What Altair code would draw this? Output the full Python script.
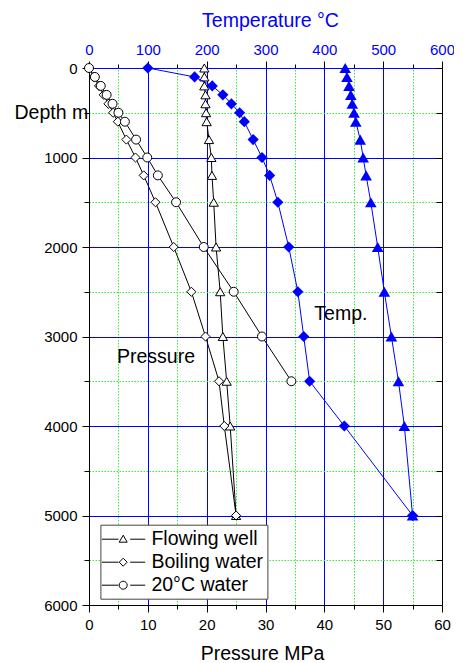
import altair as alt
import pandas as pd

# ---------------- data ----------------
depth = [0, 100, 200, 300, 400, 500, 600, 800, 1000, 1200, 1500, 2000, 2500, 3000, 3500, 4000, 5000]
p_flowing = [19.6, 19.6, 19.6, 19.8, 19.8, 19.9, 20.0, 20.4, 20.8, 20.9, 21.2, 21.6, 22.3, 22.75, 23.4, 24.0, 25.0]
p_boiling = [0, 0.8, 1.7, 2.5, 3.3, 4.1, 4.9, 6.35, 7.9, 9.3, 11.3, 14.4, 17.4, 19.8, 22.1, 23.0, 25.0]
depth_cold = [0, 100, 200, 300, 400, 500, 600, 800, 1000, 1200, 1500, 2000, 2500, 3000, 3500]
p_cold = [0, 1.0, 2.0, 3.0, 4.0, 5.0, 6.1, 8.0, 9.9, 11.7, 14.8, 19.5, 24.6, 29.4, 34.4]
t_boiling = [100, 179.5, 209.5, 227.5, 242, 256, 264, 279, 294, 307, 321, 339.5, 355, 365, 375, 434, 550]
t_flowing = [435.5, 438.5, 442, 445, 447.5, 450.5, 453.5, 461, 466, 471, 479, 490.7, 502, 514, 526, 536, 550]

series_names = ["Flowing well", "Boiling water", "20°C water"]
temp_names = ["T boiling", "T flowing"]

annot_text = ["Pressure", "Temp."]
annot_p = [4.75, 38.3]
annot_depth = [3296, 2815]

p_ticks = list(range(0, 61, 5))
t_ticks = list(range(0, 601, 50))
d_ticks = list(range(0, 6001, 500))

# ---------------- tables ----------------
rows = []
for name, ds, ps in [(series_names[0], depth, p_flowing),
                     (series_names[1], depth, p_boiling),
                     (series_names[2], depth_cold, p_cold)]:
    for d, p in zip(ds, ps):
        rows.append({"series": name, "depth": d, "P": p})
pdf = pd.DataFrame(rows)

trows = []
for name, ts in [(temp_names[0], t_boiling), (temp_names[1], t_flowing)]:
    for d, t in zip(depth, ts):
        trows.append({"series": name, "depth": d, "T": t})
tdf = pd.DataFrame(trows)

adf = pd.DataFrame({"text": annot_text, "P": annot_p, "depth": annot_depth})

FONT = "Liberation Sans"
BLUE = "#0000ff"
GREEN = "#33ee33"

def cond(test, a, b):
    return {"condition": {"test": test, "value": a}, "value": b}

x_p_axis = alt.Axis(
    orient="bottom", values=p_ticks,
    labelExpr="datum.value % 10 === 0 ? datum.label : ''",
    tickSize=cond("datum.value % 10 === 0", 7, 4),
    grid=True,
    gridColor=cond("datum.value % 10 === 0", BLUE, GREEN),
    gridDash=cond("datum.value % 10 === 0", [], [1.5, 1.5]),
    gridOpacity=cond("datum.value === 0 || datum.value === 60", 0, 1),
    gridWidth=1,
    domainColor="black", tickColor="black", labelColor="black",
    labelFont=FONT, labelFontSize=15, labelPadding=5, labelFlush=False,
    labelOverlap=False,
    title="Pressure MPa", titleFont=FONT, titleFontSize=19.5,
    titleFontWeight="normal", titleColor="black",
    titleX=173, titleY=54, titleBaseline="alphabetic", titleAlign="center",
)

y_left_axis = alt.Axis(
    orient="left", values=d_ticks, format="d",
    labelExpr="datum.value % 1000 === 0 ? datum.label : ''",
    tickSize=cond("datum.value % 1000 === 0", 7, 5),
    grid=True,
    gridColor=cond("datum.value % 1000 === 0", BLUE, GREEN),
    gridDash=cond("datum.value % 1000 === 0", [], [1.5, 1.5]),
    gridOpacity=cond("datum.value === 0 || datum.value === 6000", 0, 1),
    gridWidth=1,
    domainColor="black", tickColor="black", labelColor="black",
    labelFont=FONT, labelFontSize=15, labelPadding=5, labelFlush=False,
    labelOverlap=False,
    title="Depth m", titleFont=FONT, titleFontSize=19.5,
    titleFontWeight="normal", titleColor="black", titleAngle=0,
    titleX=-75, titleY=50, titleAlign="left", titleBaseline="alphabetic",
)

x_t_axis = alt.Axis(
    orient="top", values=t_ticks,
    labelExpr="datum.value % 100 === 0 ? datum.label : ''",
    tickSize=cond("datum.value % 100 === 0", 7, 4),
    grid=False,
    domainColor=BLUE, tickColor="black", labelColor=BLUE,
    labelFont=FONT, labelFontSize=15, labelPadding=4, labelFlush=False,
    labelOverlap=False,
    title="Temperature °C", titleFont=FONT, titleFontSize=19.5,
    titleFontWeight="normal", titleColor=BLUE,
    titleX=181, titleY=-42, titleBaseline="alphabetic", titleAlign="center",
)

y_right_axis = alt.Axis(
    orient="right", values=d_ticks, labels=False, domain=False, grid=False,
    ticks=True, tickSize=6, tickColor="black", offset=-6, title=None,
)

p_scale = alt.Scale(domain=[0, 60], nice=False, zero=False)
t_scale = alt.Scale(domain=[0, 600], nice=False, zero=False)
d_scale = alt.Scale(domain=[0, 6000], reverse=True, nice=False, zero=False)

# ---------------- pressure layer ----------------
pbase = alt.Chart(pdf).encode(
    x=alt.X("P:Q", scale=p_scale, axis=x_p_axis),
    y=alt.Y("depth:Q", scale=d_scale, axis=y_left_axis),
)

p_lines = pbase.mark_line(color="black", strokeWidth=1).encode(
    detail="series:N", order=alt.Order("depth:Q")
)
p_points = pbase.mark_point(filled=True, fill="white", stroke="black", strokeWidth=1, opacity=1).encode(
    shape=alt.Shape("series:N", scale=alt.Scale(domain=series_names,
                                                range=["triangle-up", "diamond", "circle"]), legend=None),
    size=alt.Size("series:N", scale=alt.Scale(domain=series_names, range=[85, 80, 64]), legend=None),
)

leg_paths = [
    "M-1.3,0L0.36,0M1.53,0L3.03,0M0.83,-0.4L1.23,0.3L0.43,0.3Z",
    "M-1.3,0L0.36,0M1.53,0L3.03,0M0.83,-0.4L1.23,0L0.83,0.4L0.43,0Z",
    "M-1.3,0L0.36,0M1.53,0L3.03,0M0.43,0A0.4,0.4 0 1,0 1.23,0A0.4,0.4 0 1,0 0.43,0Z",
]
legend_layer = pbase.mark_point(filled=False, color="black", stroke="black", strokeWidth=1,
                                opacity=0, size=400).encode(
    shape=alt.Shape("series:N", scale=alt.Scale(domain=series_names, range=leg_paths),
                    legend=alt.Legend(
                        title=None, orient="none", legendX=11.4, legendY=456.7,
                        padding=4, strokeColor="#444444", fillColor="white",
                        labelFont=FONT, labelFontSize=19.5, labelColor="black",
                        labelOffset=26, rowPadding=3, symbolSize=400,
                        symbolStrokeWidth=1, symbolStrokeColor="black",
                        symbolOpacity=1, labelLimit=300,
                    ))
)

annot = alt.Chart(adf).mark_text(font=FONT, fontSize=19.5, color="black",
                                 align="left", baseline="alphabetic").encode(
    x=alt.X("P:Q", scale=p_scale, axis=x_p_axis),
    y=alt.Y("depth:Q", scale=d_scale, axis=y_left_axis),
    text="text:N",
)

pressure_layer = alt.layer(p_lines, p_points, annot, legend_layer).resolve_scale(
    shape="independent", size="independent"
)

# ---------------- temperature layer ----------------
tbase = alt.Chart(tdf).encode(
    x=alt.X("T:Q", scale=t_scale, axis=x_t_axis),
    y=alt.Y("depth:Q", scale=d_scale, axis=y_right_axis),
)
t_lines = tbase.mark_line(color=BLUE, strokeWidth=1).encode(
    detail="series:N", order=alt.Order("depth:Q")
)
t_points = tbase.mark_point(filled=True, color=BLUE, opacity=1).encode(
    shape=alt.Shape("series:N", scale=alt.Scale(domain=temp_names, range=["diamond", "triangle-up"]), legend=None),
    size=alt.Size("series:N", scale=alt.Scale(domain=temp_names, range=[125, 135]), legend=None),
)
temp_layer = alt.layer(t_lines, t_points)

chart = alt.layer(pressure_layer, temp_layer).resolve_scale(
    x="independent", y="independent", shape="independent", size="independent"
).properties(
    width=353, height=537,
    autosize=alt.AutoSizeParams(type="none"),
    padding={"left": 81, "top": 60, "right": 12, "bottom": 60},
).configure(font=FONT).configure_view(stroke="black", strokeWidth=1)

chart.save("out.html", embed_options={"renderer": "svg", "actions": False})
